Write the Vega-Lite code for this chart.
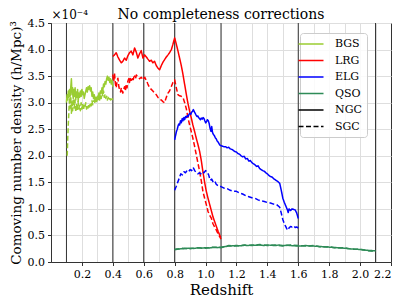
{
"$schema": "https://vega.github.io/schema/vega-lite/v6.json",
"width": 340, "height": 239,
"autosize": {"type": "none"},
"padding": {"left": 51, "top": 23, "right": 16, "bottom": 41},
"background": "white",
"config": {
  "font": "DejaVu Serif",
  "view": {"stroke": "#333", "strokeWidth": 1},
  "axis": {"labelFont": "DejaVu Serif", "titleFont": "DejaVu Serif", "labelFontSize": 11, "titleFontSize": 13.5, "titleFontWeight": "normal", "labelColor": "#000", "titleColor": "#000", "tickColor": "#333", "domainColor": "#333", "gridColor": "#dedede", "tickSize": 3.5, "labelPadding": 3}
},
"title": {"text": "No completeness corrections", "fontSize": 14, "fontWeight": "normal", "font": "DejaVu Serif", "offset": -14, "anchor": "middle", "color": "#000"},
"datasets": {
  "edges": [{"z":0.1},{"z":0.4},{"z":0.6},{"z":0.8},{"z":1.1},{"z":1.6},{"z":2.1}],
  "curves": [
{"s":"BGS NGC","z":0.100,"n":3.00},{"s":"BGS NGC","z":0.104,"n":3.15},{"s":"BGS NGC","z":0.108,"n":3.05},{"s":"BGS NGC","z":0.112,"n":3.22},{"s":"BGS NGC","z":0.116,"n":3.10},{"s":"BGS NGC","z":0.120,"n":3.25},{"s":"BGS NGC","z":0.124,"n":3.12},{"s":"BGS NGC","z":0.128,"n":3.30},{"s":"BGS NGC","z":0.132,"n":3.45},{"s":"BGS NGC","z":0.136,"n":3.15},{"s":"BGS NGC","z":0.140,"n":3.28},{"s":"BGS NGC","z":0.144,"n":3.08},{"s":"BGS NGC","z":0.148,"n":3.25},{"s":"BGS NGC","z":0.152,"n":3.12},{"s":"BGS NGC","z":0.156,"n":3.28},{"s":"BGS NGC","z":0.160,"n":3.05},{"s":"BGS NGC","z":0.164,"n":3.20},{"s":"BGS NGC","z":0.168,"n":3.10},{"s":"BGS NGC","z":0.172,"n":3.25},{"s":"BGS NGC","z":0.176,"n":3.02},{"s":"BGS NGC","z":0.180,"n":3.18},{"s":"BGS NGC","z":0.185,"n":3.10},{"s":"BGS NGC","z":0.190,"n":3.22},{"s":"BGS NGC","z":0.195,"n":3.12},{"s":"BGS NGC","z":0.200,"n":3.25},{"s":"BGS NGC","z":0.205,"n":3.15},{"s":"BGS NGC","z":0.210,"n":3.20},{"s":"BGS NGC","z":0.215,"n":3.08},{"s":"BGS NGC","z":0.220,"n":3.15},{"s":"BGS NGC","z":0.225,"n":3.22},{"s":"BGS NGC","z":0.230,"n":3.28},{"s":"BGS NGC","z":0.235,"n":3.20},{"s":"BGS NGC","z":0.240,"n":3.30},{"s":"BGS NGC","z":0.245,"n":3.25},{"s":"BGS NGC","z":0.250,"n":3.32},{"s":"BGS NGC","z":0.255,"n":3.22},{"s":"BGS NGC","z":0.260,"n":3.28},{"s":"BGS NGC","z":0.265,"n":3.12},{"s":"BGS NGC","z":0.270,"n":3.20},{"s":"BGS NGC","z":0.275,"n":3.08},{"s":"BGS NGC","z":0.280,"n":3.15},{"s":"BGS NGC","z":0.285,"n":3.05},{"s":"BGS NGC","z":0.290,"n":3.10},{"s":"BGS NGC","z":0.295,"n":3.02},{"s":"BGS NGC","z":0.300,"n":3.12},{"s":"BGS NGC","z":0.305,"n":3.08},{"s":"BGS NGC","z":0.310,"n":3.18},{"s":"BGS NGC","z":0.315,"n":3.12},{"s":"BGS NGC","z":0.320,"n":3.22},{"s":"BGS NGC","z":0.325,"n":3.18},{"s":"BGS NGC","z":0.330,"n":3.28},{"s":"BGS NGC","z":0.335,"n":3.22},{"s":"BGS NGC","z":0.340,"n":3.35},{"s":"BGS NGC","z":0.345,"n":3.30},{"s":"BGS NGC","z":0.350,"n":3.40},{"s":"BGS NGC","z":0.355,"n":3.35},{"s":"BGS NGC","z":0.360,"n":3.45},{"s":"BGS NGC","z":0.365,"n":3.50},{"s":"BGS NGC","z":0.370,"n":3.42},{"s":"BGS NGC","z":0.375,"n":3.48},{"s":"BGS NGC","z":0.380,"n":3.38},{"s":"BGS NGC","z":0.385,"n":3.45},{"s":"BGS NGC","z":0.390,"n":3.35},{"s":"BGS NGC","z":0.395,"n":3.42},{"s":"BGS NGC","z":0.400,"n":3.30},
{"s":"BGS SGC","z":0.105,"n":2.00},{"s":"BGS SGC","z":0.108,"n":2.30},{"s":"BGS SGC","z":0.112,"n":2.60},{"s":"BGS SGC","z":0.116,"n":2.85},{"s":"BGS SGC","z":0.120,"n":3.10},{"s":"BGS SGC","z":0.124,"n":2.90},{"s":"BGS SGC","z":0.128,"n":3.12},{"s":"BGS SGC","z":0.132,"n":2.80},{"s":"BGS SGC","z":0.136,"n":3.05},{"s":"BGS SGC","z":0.140,"n":2.85},{"s":"BGS SGC","z":0.145,"n":3.15},{"s":"BGS SGC","z":0.150,"n":2.90},{"s":"BGS SGC","z":0.155,"n":3.05},{"s":"BGS SGC","z":0.160,"n":2.82},{"s":"BGS SGC","z":0.165,"n":2.98},{"s":"BGS SGC","z":0.170,"n":2.85},{"s":"BGS SGC","z":0.175,"n":3.02},{"s":"BGS SGC","z":0.180,"n":2.88},{"s":"BGS SGC","z":0.185,"n":2.95},{"s":"BGS SGC","z":0.190,"n":2.85},{"s":"BGS SGC","z":0.195,"n":3.00},{"s":"BGS SGC","z":0.200,"n":2.88},{"s":"BGS SGC","z":0.205,"n":2.98},{"s":"BGS SGC","z":0.210,"n":2.86},{"s":"BGS SGC","z":0.215,"n":2.95},{"s":"BGS SGC","z":0.220,"n":2.90},{"s":"BGS SGC","z":0.225,"n":3.00},{"s":"BGS SGC","z":0.230,"n":2.88},{"s":"BGS SGC","z":0.235,"n":2.95},{"s":"BGS SGC","z":0.240,"n":2.90},{"s":"BGS SGC","z":0.245,"n":2.98},{"s":"BGS SGC","z":0.250,"n":2.92},{"s":"BGS SGC","z":0.255,"n":3.00},{"s":"BGS SGC","z":0.260,"n":2.94},{"s":"BGS SGC","z":0.265,"n":3.04},{"s":"BGS SGC","z":0.270,"n":2.96},{"s":"BGS SGC","z":0.275,"n":3.02},{"s":"BGS SGC","z":0.280,"n":3.05},{"s":"BGS SGC","z":0.285,"n":2.98},{"s":"BGS SGC","z":0.290,"n":3.08},{"s":"BGS SGC","z":0.295,"n":3.02},{"s":"BGS SGC","z":0.300,"n":3.10},{"s":"BGS SGC","z":0.305,"n":3.04},{"s":"BGS SGC","z":0.310,"n":3.12},{"s":"BGS SGC","z":0.315,"n":3.05},{"s":"BGS SGC","z":0.320,"n":3.15},{"s":"BGS SGC","z":0.325,"n":3.08},{"s":"BGS SGC","z":0.330,"n":3.20},{"s":"BGS SGC","z":0.335,"n":3.12},{"s":"BGS SGC","z":0.340,"n":3.22},{"s":"BGS SGC","z":0.345,"n":3.10},{"s":"BGS SGC","z":0.350,"n":3.16},{"s":"BGS SGC","z":0.355,"n":3.08},{"s":"BGS SGC","z":0.360,"n":3.12},{"s":"BGS SGC","z":0.365,"n":3.05},{"s":"BGS SGC","z":0.370,"n":3.10},{"s":"BGS SGC","z":0.375,"n":3.04},{"s":"BGS SGC","z":0.380,"n":3.08},{"s":"BGS SGC","z":0.385,"n":3.05},{"s":"BGS SGC","z":0.390,"n":3.10},{"s":"BGS SGC","z":0.395,"n":3.06},{"s":"BGS SGC","z":0.400,"n":3.08},
{"s":"LRG NGC","z":0.400,"n":3.87},{"s":"LRG NGC","z":0.411,"n":3.90},{"s":"LRG NGC","z":0.422,"n":3.94},{"s":"LRG NGC","z":0.433,"n":3.86},{"s":"LRG NGC","z":0.444,"n":3.80},{"s":"LRG NGC","z":0.455,"n":3.75},{"s":"LRG NGC","z":0.465,"n":3.78},{"s":"LRG NGC","z":0.476,"n":3.84},{"s":"LRG NGC","z":0.487,"n":3.80},{"s":"LRG NGC","z":0.497,"n":3.88},{"s":"LRG NGC","z":0.508,"n":3.94},{"s":"LRG NGC","z":0.519,"n":3.97},{"s":"LRG NGC","z":0.530,"n":3.90},{"s":"LRG NGC","z":0.541,"n":4.03},{"s":"LRG NGC","z":0.552,"n":3.95},{"s":"LRG NGC","z":0.562,"n":3.84},{"s":"LRG NGC","z":0.573,"n":3.92},{"s":"LRG NGC","z":0.584,"n":3.98},{"s":"LRG NGC","z":0.595,"n":3.84},{"s":"LRG NGC","z":0.606,"n":3.90},{"s":"LRG NGC","z":0.617,"n":3.86},{"s":"LRG NGC","z":0.627,"n":3.82},{"s":"LRG NGC","z":0.638,"n":3.78},{"s":"LRG NGC","z":0.649,"n":3.80},{"s":"LRG NGC","z":0.659,"n":3.75},{"s":"LRG NGC","z":0.670,"n":3.78},{"s":"LRG NGC","z":0.681,"n":3.70},{"s":"LRG NGC","z":0.692,"n":3.65},{"s":"LRG NGC","z":0.703,"n":3.62},{"s":"LRG NGC","z":0.714,"n":3.70},{"s":"LRG NGC","z":0.724,"n":3.76},{"s":"LRG NGC","z":0.735,"n":3.81},{"s":"LRG NGC","z":0.746,"n":3.86},{"s":"LRG NGC","z":0.757,"n":3.90},{"s":"LRG NGC","z":0.767,"n":3.94},{"s":"LRG NGC","z":0.779,"n":4.00},{"s":"LRG NGC","z":0.789,"n":4.10},{"s":"LRG NGC","z":0.800,"n":4.22},{"s":"LRG NGC","z":0.811,"n":4.10},{"s":"LRG NGC","z":0.821,"n":3.98},{"s":"LRG NGC","z":0.832,"n":3.84},{"s":"LRG NGC","z":0.843,"n":3.70},{"s":"LRG NGC","z":0.854,"n":3.53},{"s":"LRG NGC","z":0.865,"n":3.34},{"s":"LRG NGC","z":0.876,"n":3.15},{"s":"LRG NGC","z":0.886,"n":2.99},{"s":"LRG NGC","z":0.897,"n":2.84},{"s":"LRG NGC","z":0.908,"n":2.71},{"s":"LRG NGC","z":0.918,"n":2.58},{"s":"LRG NGC","z":0.929,"n":2.46},{"s":"LRG NGC","z":0.940,"n":2.33},{"s":"LRG NGC","z":0.951,"n":2.21},{"s":"LRG NGC","z":0.962,"n":2.08},{"s":"LRG NGC","z":0.973,"n":1.90},{"s":"LRG NGC","z":0.983,"n":1.70},{"s":"LRG NGC","z":0.994,"n":1.50},{"s":"LRG NGC","z":1.005,"n":1.33},{"s":"LRG NGC","z":1.016,"n":1.20},{"s":"LRG NGC","z":1.027,"n":1.08},{"s":"LRG NGC","z":1.038,"n":0.96},{"s":"LRG NGC","z":1.048,"n":0.85},{"s":"LRG NGC","z":1.059,"n":0.76},{"s":"LRG NGC","z":1.070,"n":0.67},{"s":"LRG NGC","z":1.081,"n":0.58},{"s":"LRG NGC","z":1.091,"n":0.51},{"s":"LRG NGC","z":1.098,"n":0.46},
{"s":"LRG SGC","z":0.400,"n":3.53},{"s":"LRG SGC","z":0.406,"n":3.40},{"s":"LRG SGC","z":0.411,"n":3.55},{"s":"LRG SGC","z":0.417,"n":3.35},{"s":"LRG SGC","z":0.422,"n":3.28},{"s":"LRG SGC","z":0.428,"n":3.42},{"s":"LRG SGC","z":0.433,"n":3.46},{"s":"LRG SGC","z":0.439,"n":3.30},{"s":"LRG SGC","z":0.444,"n":3.24},{"s":"LRG SGC","z":0.450,"n":3.20},{"s":"LRG SGC","z":0.455,"n":3.28},{"s":"LRG SGC","z":0.460,"n":3.22},{"s":"LRG SGC","z":0.465,"n":3.18},{"s":"LRG SGC","z":0.470,"n":3.25},{"s":"LRG SGC","z":0.476,"n":3.30},{"s":"LRG SGC","z":0.481,"n":3.22},{"s":"LRG SGC","z":0.487,"n":3.35},{"s":"LRG SGC","z":0.492,"n":3.28},{"s":"LRG SGC","z":0.497,"n":3.40},{"s":"LRG SGC","z":0.503,"n":3.45},{"s":"LRG SGC","z":0.508,"n":3.38},{"s":"LRG SGC","z":0.514,"n":3.48},{"s":"LRG SGC","z":0.519,"n":3.42},{"s":"LRG SGC","z":0.525,"n":3.45},{"s":"LRG SGC","z":0.530,"n":3.40},{"s":"LRG SGC","z":0.536,"n":3.48},{"s":"LRG SGC","z":0.541,"n":3.50},{"s":"LRG SGC","z":0.547,"n":3.45},{"s":"LRG SGC","z":0.552,"n":3.52},{"s":"LRG SGC","z":0.562,"n":3.48},{"s":"LRG SGC","z":0.573,"n":3.45},{"s":"LRG SGC","z":0.584,"n":3.48},{"s":"LRG SGC","z":0.595,"n":3.43},{"s":"LRG SGC","z":0.606,"n":3.48},{"s":"LRG SGC","z":0.617,"n":3.42},{"s":"LRG SGC","z":0.627,"n":3.35},{"s":"LRG SGC","z":0.638,"n":3.28},{"s":"LRG SGC","z":0.649,"n":3.25},{"s":"LRG SGC","z":0.659,"n":3.22},{"s":"LRG SGC","z":0.670,"n":3.18},{"s":"LRG SGC","z":0.681,"n":3.15},{"s":"LRG SGC","z":0.692,"n":3.10},{"s":"LRG SGC","z":0.703,"n":3.06},{"s":"LRG SGC","z":0.714,"n":3.05},{"s":"LRG SGC","z":0.724,"n":3.02},{"s":"LRG SGC","z":0.735,"n":3.00},{"s":"LRG SGC","z":0.746,"n":3.10},{"s":"LRG SGC","z":0.757,"n":3.18},{"s":"LRG SGC","z":0.767,"n":3.22},{"s":"LRG SGC","z":0.778,"n":3.30},{"s":"LRG SGC","z":0.789,"n":3.38},{"s":"LRG SGC","z":0.800,"n":3.43},{"s":"LRG SGC","z":0.811,"n":3.28},{"s":"LRG SGC","z":0.821,"n":3.15},{"s":"LRG SGC","z":0.832,"n":3.13},{"s":"LRG SGC","z":0.843,"n":3.12},{"s":"LRG SGC","z":0.854,"n":3.10},{"s":"LRG SGC","z":0.865,"n":3.00},{"s":"LRG SGC","z":0.876,"n":2.88},{"s":"LRG SGC","z":0.886,"n":2.72},{"s":"LRG SGC","z":0.897,"n":2.58},{"s":"LRG SGC","z":0.908,"n":2.45},{"s":"LRG SGC","z":0.918,"n":2.33},{"s":"LRG SGC","z":0.929,"n":2.18},{"s":"LRG SGC","z":0.940,"n":2.02},{"s":"LRG SGC","z":0.951,"n":1.86},{"s":"LRG SGC","z":0.962,"n":1.70},{"s":"LRG SGC","z":0.973,"n":1.52},{"s":"LRG SGC","z":0.983,"n":1.33},{"s":"LRG SGC","z":0.994,"n":1.20},{"s":"LRG SGC","z":1.005,"n":1.08},{"s":"LRG SGC","z":1.016,"n":0.95},{"s":"LRG SGC","z":1.027,"n":0.88},{"s":"LRG SGC","z":1.038,"n":0.82},{"s":"LRG SGC","z":1.048,"n":0.72},{"s":"LRG SGC","z":1.059,"n":0.66},{"s":"LRG SGC","z":1.070,"n":0.60},{"s":"LRG SGC","z":1.081,"n":0.53},{"s":"LRG SGC","z":1.091,"n":0.48},{"s":"LRG SGC","z":1.100,"n":0.43},
{"s":"ELG NGC","z":0.800,"n":2.30},{"s":"ELG NGC","z":0.806,"n":2.38},{"s":"ELG NGC","z":0.811,"n":2.45},{"s":"ELG NGC","z":0.817,"n":2.50},{"s":"ELG NGC","z":0.822,"n":2.56},{"s":"ELG NGC","z":0.827,"n":2.60},{"s":"ELG NGC","z":0.832,"n":2.58},{"s":"ELG NGC","z":0.838,"n":2.66},{"s":"ELG NGC","z":0.843,"n":2.62},{"s":"ELG NGC","z":0.849,"n":2.70},{"s":"ELG NGC","z":0.854,"n":2.66},{"s":"ELG NGC","z":0.860,"n":2.72},{"s":"ELG NGC","z":0.865,"n":2.68},{"s":"ELG NGC","z":0.871,"n":2.74},{"s":"ELG NGC","z":0.877,"n":2.72},{"s":"ELG NGC","z":0.882,"n":2.76},{"s":"ELG NGC","z":0.888,"n":2.74},{"s":"ELG NGC","z":0.893,"n":2.78},{"s":"ELG NGC","z":0.899,"n":2.80},{"s":"ELG NGC","z":0.905,"n":2.78},{"s":"ELG NGC","z":0.910,"n":2.82},{"s":"ELG NGC","z":0.916,"n":2.84},{"s":"ELG NGC","z":0.921,"n":2.87},{"s":"ELG NGC","z":0.927,"n":2.83},{"s":"ELG NGC","z":0.933,"n":2.80},{"s":"ELG NGC","z":0.938,"n":2.77},{"s":"ELG NGC","z":0.944,"n":2.74},{"s":"ELG NGC","z":0.950,"n":2.75},{"s":"ELG NGC","z":0.955,"n":2.72},{"s":"ELG NGC","z":0.961,"n":2.70},{"s":"ELG NGC","z":0.967,"n":2.68},{"s":"ELG NGC","z":0.972,"n":2.71},{"s":"ELG NGC","z":0.978,"n":2.69},{"s":"ELG NGC","z":0.984,"n":2.72},{"s":"ELG NGC","z":0.990,"n":2.70},{"s":"ELG NGC","z":0.995,"n":2.66},{"s":"ELG NGC","z":1.001,"n":2.62},{"s":"ELG NGC","z":1.006,"n":2.64},{"s":"ELG NGC","z":1.012,"n":2.68},{"s":"ELG NGC","z":1.018,"n":2.66},{"s":"ELG NGC","z":1.024,"n":2.60},{"s":"ELG NGC","z":1.029,"n":2.52},{"s":"ELG NGC","z":1.035,"n":2.46},{"s":"ELG NGC","z":1.040,"n":2.55},{"s":"ELG NGC","z":1.045,"n":2.44},{"s":"ELG NGC","z":1.051,"n":2.40},{"s":"ELG NGC","z":1.057,"n":2.38},{"s":"ELG NGC","z":1.063,"n":2.34},{"s":"ELG NGC","z":1.069,"n":2.32},{"s":"ELG NGC","z":1.075,"n":2.28},{"s":"ELG NGC","z":1.081,"n":2.26},{"s":"ELG NGC","z":1.087,"n":2.23},{"s":"ELG NGC","z":1.093,"n":2.20},{"s":"ELG NGC","z":1.100,"n":2.19},{"s":"ELG NGC","z":1.110,"n":2.18},{"s":"ELG NGC","z":1.120,"n":2.17},{"s":"ELG NGC","z":1.130,"n":2.17},{"s":"ELG NGC","z":1.140,"n":2.15},{"s":"ELG NGC","z":1.150,"n":2.16},{"s":"ELG NGC","z":1.160,"n":2.13},{"s":"ELG NGC","z":1.170,"n":2.12},{"s":"ELG NGC","z":1.180,"n":2.10},{"s":"ELG NGC","z":1.190,"n":2.08},{"s":"ELG NGC","z":1.200,"n":2.07},{"s":"ELG NGC","z":1.210,"n":2.04},{"s":"ELG NGC","z":1.220,"n":2.03},{"s":"ELG NGC","z":1.230,"n":2.00},{"s":"ELG NGC","z":1.240,"n":1.98},{"s":"ELG NGC","z":1.250,"n":1.99},{"s":"ELG NGC","z":1.260,"n":1.94},{"s":"ELG NGC","z":1.270,"n":1.95},{"s":"ELG NGC","z":1.280,"n":1.90},{"s":"ELG NGC","z":1.290,"n":1.91},{"s":"ELG NGC","z":1.300,"n":1.87},{"s":"ELG NGC","z":1.310,"n":1.85},{"s":"ELG NGC","z":1.320,"n":1.83},{"s":"ELG NGC","z":1.330,"n":1.80},{"s":"ELG NGC","z":1.340,"n":1.81},{"s":"ELG NGC","z":1.350,"n":1.76},{"s":"ELG NGC","z":1.360,"n":1.74},{"s":"ELG NGC","z":1.370,"n":1.72},{"s":"ELG NGC","z":1.380,"n":1.71},{"s":"ELG NGC","z":1.390,"n":1.68},{"s":"ELG NGC","z":1.400,"n":1.66},{"s":"ELG NGC","z":1.410,"n":1.63},{"s":"ELG NGC","z":1.420,"n":1.61},{"s":"ELG NGC","z":1.430,"n":1.60},{"s":"ELG NGC","z":1.440,"n":1.57},{"s":"ELG NGC","z":1.450,"n":1.55},{"s":"ELG NGC","z":1.460,"n":1.53},{"s":"ELG NGC","z":1.470,"n":1.51},{"s":"ELG NGC","z":1.480,"n":1.48},{"s":"ELG NGC","z":1.490,"n":1.35},{"s":"ELG NGC","z":1.500,"n":1.20},{"s":"ELG NGC","z":1.510,"n":1.12},{"s":"ELG NGC","z":1.520,"n":1.05},{"s":"ELG NGC","z":1.530,"n":0.98},{"s":"ELG NGC","z":1.535,"n":0.93},{"s":"ELG NGC","z":1.540,"n":1.00},{"s":"ELG NGC","z":1.550,"n":0.97},{"s":"ELG NGC","z":1.560,"n":1.00},{"s":"ELG NGC","z":1.570,"n":0.99},{"s":"ELG NGC","z":1.580,"n":0.98},{"s":"ELG NGC","z":1.590,"n":0.92},{"s":"ELG NGC","z":1.600,"n":0.82},
{"s":"ELG SGC","z":0.800,"n":1.35},{"s":"ELG SGC","z":0.810,"n":1.42},{"s":"ELG SGC","z":0.820,"n":1.50},{"s":"ELG SGC","z":0.830,"n":1.58},{"s":"ELG SGC","z":0.840,"n":1.66},{"s":"ELG SGC","z":0.850,"n":1.64},{"s":"ELG SGC","z":0.860,"n":1.70},{"s":"ELG SGC","z":0.870,"n":1.68},{"s":"ELG SGC","z":0.880,"n":1.72},{"s":"ELG SGC","z":0.890,"n":1.70},{"s":"ELG SGC","z":0.900,"n":1.74},{"s":"ELG SGC","z":0.910,"n":1.72},{"s":"ELG SGC","z":0.920,"n":1.78},{"s":"ELG SGC","z":0.930,"n":1.72},{"s":"ELG SGC","z":0.940,"n":1.68},{"s":"ELG SGC","z":0.950,"n":1.66},{"s":"ELG SGC","z":0.960,"n":1.68},{"s":"ELG SGC","z":0.970,"n":1.66},{"s":"ELG SGC","z":0.980,"n":1.70},{"s":"ELG SGC","z":0.990,"n":1.68},{"s":"ELG SGC","z":1.000,"n":1.72},{"s":"ELG SGC","z":1.010,"n":1.70},{"s":"ELG SGC","z":1.020,"n":1.64},{"s":"ELG SGC","z":1.030,"n":1.54},{"s":"ELG SGC","z":1.040,"n":1.56},{"s":"ELG SGC","z":1.050,"n":1.50},{"s":"ELG SGC","z":1.060,"n":1.52},{"s":"ELG SGC","z":1.070,"n":1.46},{"s":"ELG SGC","z":1.080,"n":1.44},{"s":"ELG SGC","z":1.090,"n":1.42},{"s":"ELG SGC","z":1.100,"n":1.42},{"s":"ELG SGC","z":1.120,"n":1.39},{"s":"ELG SGC","z":1.140,"n":1.38},{"s":"ELG SGC","z":1.160,"n":1.35},{"s":"ELG SGC","z":1.180,"n":1.33},{"s":"ELG SGC","z":1.200,"n":1.33},{"s":"ELG SGC","z":1.220,"n":1.30},{"s":"ELG SGC","z":1.240,"n":1.28},{"s":"ELG SGC","z":1.260,"n":1.25},{"s":"ELG SGC","z":1.280,"n":1.23},{"s":"ELG SGC","z":1.300,"n":1.21},{"s":"ELG SGC","z":1.320,"n":1.20},{"s":"ELG SGC","z":1.340,"n":1.17},{"s":"ELG SGC","z":1.360,"n":1.15},{"s":"ELG SGC","z":1.380,"n":1.14},{"s":"ELG SGC","z":1.400,"n":1.12},{"s":"ELG SGC","z":1.420,"n":1.11},{"s":"ELG SGC","z":1.440,"n":1.09},{"s":"ELG SGC","z":1.460,"n":1.08},{"s":"ELG SGC","z":1.480,"n":1.03},{"s":"ELG SGC","z":1.490,"n":0.92},{"s":"ELG SGC","z":1.500,"n":0.80},{"s":"ELG SGC","z":1.510,"n":0.72},{"s":"ELG SGC","z":1.520,"n":0.66},{"s":"ELG SGC","z":1.530,"n":0.60},{"s":"ELG SGC","z":1.540,"n":0.64},{"s":"ELG SGC","z":1.550,"n":0.67},{"s":"ELG SGC","z":1.560,"n":0.66},{"s":"ELG SGC","z":1.570,"n":0.68},{"s":"ELG SGC","z":1.580,"n":0.65},{"s":"ELG SGC","z":1.590,"n":0.66},{"s":"ELG SGC","z":1.600,"n":0.64},
{"s":"QSO NGC","z":0.800,"n":0.240},{"s":"QSO NGC","z":0.825,"n":0.245},{"s":"QSO NGC","z":0.850,"n":0.250},{"s":"QSO NGC","z":0.875,"n":0.255},{"s":"QSO NGC","z":0.900,"n":0.260},{"s":"QSO NGC","z":0.925,"n":0.255},{"s":"QSO NGC","z":0.950,"n":0.265},{"s":"QSO NGC","z":0.975,"n":0.260},{"s":"QSO NGC","z":1.000,"n":0.270},{"s":"QSO NGC","z":1.025,"n":0.265},{"s":"QSO NGC","z":1.050,"n":0.275},{"s":"QSO NGC","z":1.075,"n":0.270},{"s":"QSO NGC","z":1.100,"n":0.280},{"s":"QSO NGC","z":1.125,"n":0.290},{"s":"QSO NGC","z":1.150,"n":0.300},{"s":"QSO NGC","z":1.175,"n":0.305},{"s":"QSO NGC","z":1.200,"n":0.310},{"s":"QSO NGC","z":1.225,"n":0.305},{"s":"QSO NGC","z":1.250,"n":0.315},{"s":"QSO NGC","z":1.275,"n":0.310},{"s":"QSO NGC","z":1.300,"n":0.320},{"s":"QSO NGC","z":1.325,"n":0.315},{"s":"QSO NGC","z":1.350,"n":0.320},{"s":"QSO NGC","z":1.375,"n":0.310},{"s":"QSO NGC","z":1.400,"n":0.320},{"s":"QSO NGC","z":1.425,"n":0.315},{"s":"QSO NGC","z":1.450,"n":0.310},{"s":"QSO NGC","z":1.475,"n":0.320},{"s":"QSO NGC","z":1.500,"n":0.310},{"s":"QSO NGC","z":1.525,"n":0.315},{"s":"QSO NGC","z":1.550,"n":0.310},{"s":"QSO NGC","z":1.575,"n":0.305},{"s":"QSO NGC","z":1.600,"n":0.300},{"s":"QSO NGC","z":1.625,"n":0.305},{"s":"QSO NGC","z":1.650,"n":0.310},{"s":"QSO NGC","z":1.675,"n":0.300},{"s":"QSO NGC","z":1.700,"n":0.300},{"s":"QSO NGC","z":1.725,"n":0.295},{"s":"QSO NGC","z":1.750,"n":0.290},{"s":"QSO NGC","z":1.775,"n":0.285},{"s":"QSO NGC","z":1.800,"n":0.280},{"s":"QSO NGC","z":1.825,"n":0.275},{"s":"QSO NGC","z":1.850,"n":0.270},{"s":"QSO NGC","z":1.875,"n":0.265},{"s":"QSO NGC","z":1.900,"n":0.260},{"s":"QSO NGC","z":1.925,"n":0.250},{"s":"QSO NGC","z":1.950,"n":0.245},{"s":"QSO NGC","z":1.975,"n":0.240},{"s":"QSO NGC","z":2.000,"n":0.235},{"s":"QSO NGC","z":2.025,"n":0.225},{"s":"QSO NGC","z":2.050,"n":0.220},{"s":"QSO NGC","z":2.075,"n":0.215},{"s":"QSO NGC","z":2.100,"n":0.210},
{"s":"QSO SGC","z":0.800,"n":0.23},{"s":"QSO SGC","z":0.850,"n":0.26},{"s":"QSO SGC","z":0.900,"n":0.25},{"s":"QSO SGC","z":0.950,"n":0.27},{"s":"QSO SGC","z":1.000,"n":0.26},{"s":"QSO SGC","z":1.050,"n":0.28},{"s":"QSO SGC","z":1.100,"n":0.27},{"s":"QSO SGC","z":1.150,"n":0.31},{"s":"QSO SGC","z":1.200,"n":0.30},{"s":"QSO SGC","z":1.250,"n":0.32},{"s":"QSO SGC","z":1.300,"n":0.31},{"s":"QSO SGC","z":1.350,"n":0.33},{"s":"QSO SGC","z":1.400,"n":0.31},{"s":"QSO SGC","z":1.450,"n":0.32},{"s":"QSO SGC","z":1.500,"n":0.30},{"s":"QSO SGC","z":1.550,"n":0.32},{"s":"QSO SGC","z":1.600,"n":0.31},{"s":"QSO SGC","z":1.650,"n":0.30},{"s":"QSO SGC","z":1.700,"n":0.31},{"s":"QSO SGC","z":1.750,"n":0.28},{"s":"QSO SGC","z":1.800,"n":0.29},{"s":"QSO SGC","z":1.850,"n":0.26},{"s":"QSO SGC","z":1.900,"n":0.27},{"s":"QSO SGC","z":1.950,"n":0.24},{"s":"QSO SGC","z":2.000,"n":0.24},{"s":"QSO SGC","z":2.050,"n":0.21},{"s":"QSO SGC","z":2.100,"n":0.20}
  ]
},
"layer": [
  {
    "data": {"name": "edges"},
    "mark": {"type": "rule", "color": "#333", "strokeWidth": 1},
    "encoding": {
      "x": {"field": "z", "type": "quantitative", "scale": {"domain": [0, 2.2], "nice": false, "zero": false},
        "axis": {"orient": "top", "values": [0.1,0.2,0.3,0.4,0.5,0.6,0.7,0.8,0.9,1.0,1.1,1.2,1.3,1.4,1.5,1.6,1.7,1.8,1.9,2.0,2.1], "grid": true, "labels": false, "ticks": false, "domain": false, "title": "×10⁻⁴", "titleAnchor": "start", "titleAlign": "left", "titleFontSize": 12, "titlePadding": 2}}
    }
  },
  {
    "data": {"name": "curves"},
    "mark": {"type": "line", "strokeWidth": 1.5, "strokeJoin": "round"},
    "encoding": {
      "x": {"field": "z", "type": "quantitative", "scale": {"domain": [0, 2.2], "nice": false, "zero": false},
        "axis": {"values": [0.2,0.4,0.6,0.8,1.0,1.2,1.4,1.6,1.8,2.0,2.2], "format": ".1f", "grid": false, "title": "Redshift", "titleFontSize": 15, "titlePadding": 3}},
      "y": {"field": "n", "type": "quantitative", "scale": {"domain": [0, 4.5], "nice": false},
        "axis": {"values": [0,0.5,1,1.5,2,2.5,3,3.5,4,4.5], "format": ".1f", "grid": true, "title": "Comoving number density (h/Mpc)³", "titleFontSize": 13.5, "titlePadding": 4}},
      "color": {"field": "s", "type": "nominal",
        "scale": {"domain": ["BGS NGC","LRG NGC","ELG NGC","QSO NGC","NGC","SGC","BGS SGC","LRG SGC","ELG SGC","QSO SGC"],
                  "range": ["#9acd32","#ff0000","#0000ff","#2e8b57","#000000","#000000","#9acd32","#ff0000","#0000ff","#2e8b57"]},
        "legend": {"values": ["BGS NGC","LRG NGC","ELG NGC","QSO NGC","NGC","SGC"], "labelExpr": "split(datum.label,' ')[0]", "title": null, "orient": "none", "legendX": 249, "legendY": 10, "fillColor": "rgba(255,255,255,0.85)", "strokeColor": "#cccccc", "cornerRadius": 3, "padding": 5, "symbolType": "M-2.5,0H2.5", "symbolSize": 100, "symbolStrokeWidth": 1.5, "labelFont": "DejaVu Serif", "labelFontSize": 11, "labelColor": "#000", "rowPadding": 5.5, "labelOffset": 18}},
      "strokeDash": {"field": "s", "type": "nominal",
        "scale": {"domain": ["BGS NGC","LRG NGC","ELG NGC","QSO NGC","NGC","SGC","BGS SGC","LRG SGC","ELG SGC","QSO SGC"],
                  "range": [[1,0],[1,0],[1,0],[1,0],[1,0],[5,2.5],[5,2.5],[5,2.5],[5,2.5],[5,2.5]]},
        "legend": {"values": ["BGS NGC","LRG NGC","ELG NGC","QSO NGC","NGC","SGC"], "labelExpr": "split(datum.label,' ')[0]", "title": null, "orient": "none", "legendX": 249, "legendY": 10, "fillColor": "rgba(255,255,255,0.85)", "strokeColor": "#cccccc", "cornerRadius": 3, "padding": 5, "symbolType": "M-2.5,0H2.5", "symbolSize": 100, "symbolStrokeWidth": 1.5, "labelFont": "DejaVu Serif", "labelFontSize": 11, "labelColor": "#000", "rowPadding": 5.5, "labelOffset": 18}}
    }
  }
],
"resolve": {"axis": {"x": "independent"}}
}
